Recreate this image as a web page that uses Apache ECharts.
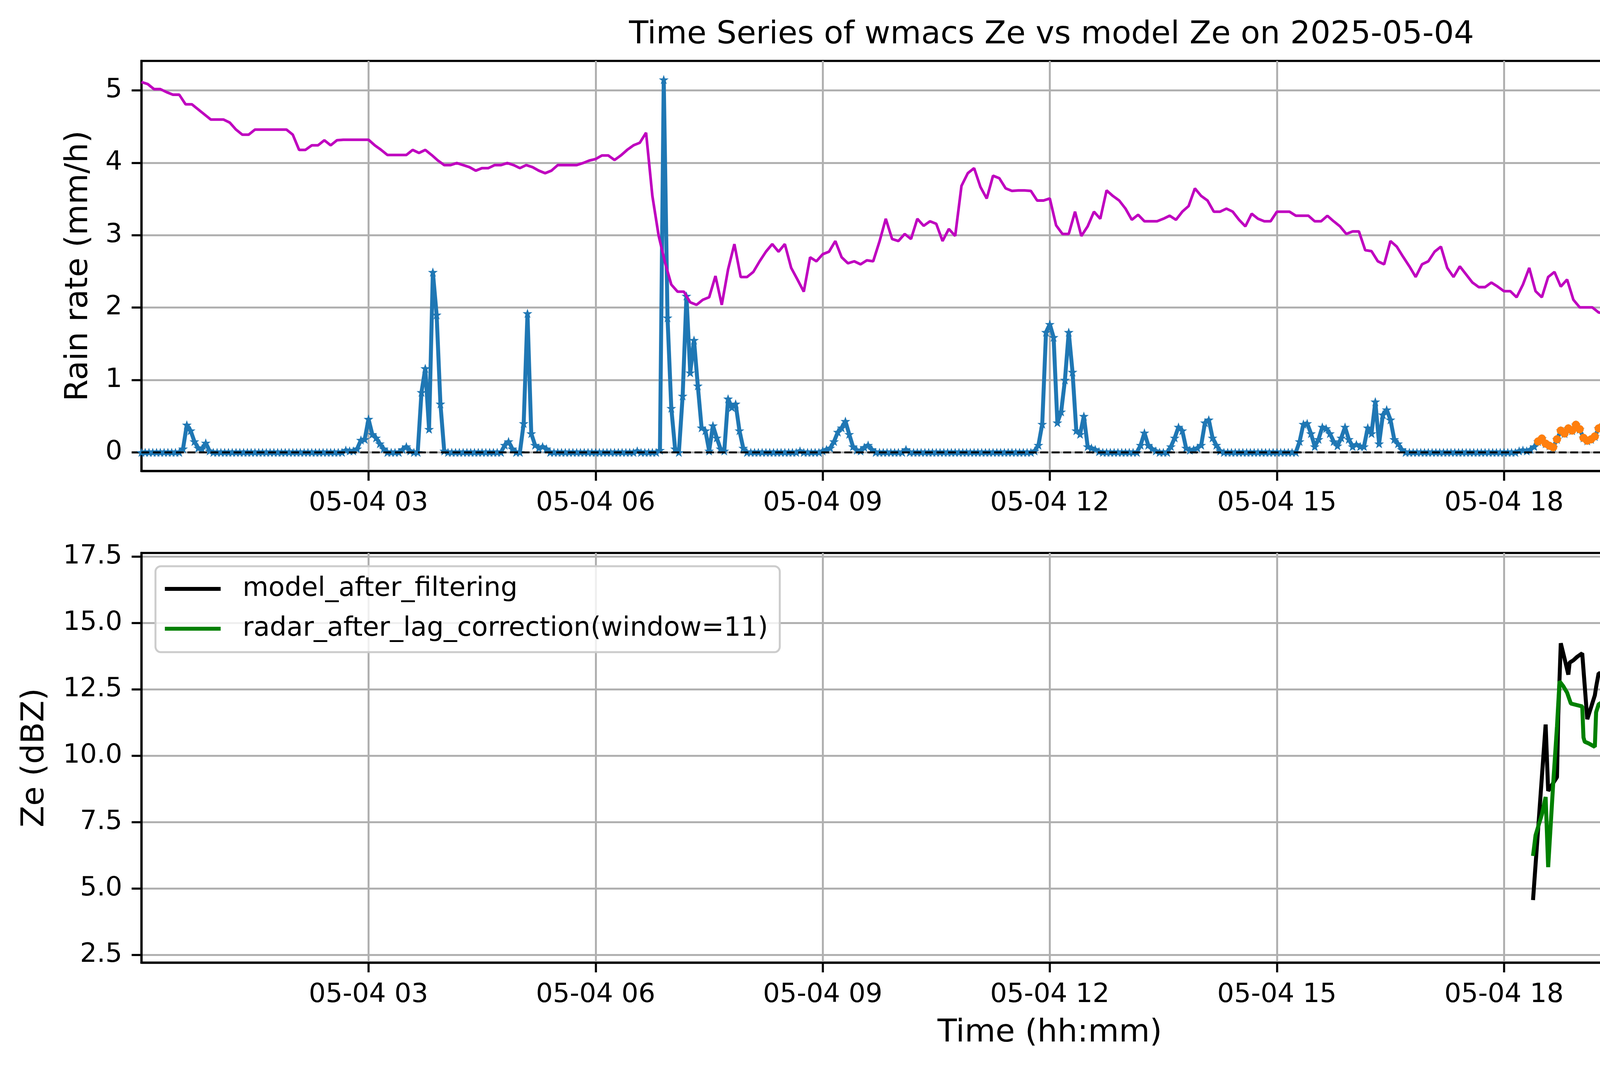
<!DOCTYPE html>
<html><head><meta charset="utf-8">
<script src="https://cdn.jsdelivr.net/npm/echarts@6/dist/echarts.min.js"></script>
<style>html,body{margin:0;padding:0;background:#fff}#c{width:5307px;height:2740px}</style>
</head><body><div id="c"></div>
<script>
const chartTitle = 'Time Series of wmacs Ze vs model Ze on 2025-05-04';
const hourTicks = [3, 6, 9, 12, 15, 18, 21];
const rainTicks = [0, 1, 2, 3, 4, 5];
const tempTicks = [6, 8, 10, 12];
const zeTicks = [2.5, 5, 7.5, 10, 12.5, 15, 17.5];

// rain rate (mm/h), one value every 3 minutes from 00:00 (20 per hour)
const rainRate = [
0,0,0,0,0,0,0,0,0,0, 0,0.05,0.38,0.3,0.15,0.06,0.05,0.13,0.02,0,
0,0,0,0,0,0,0,0,0,0, 0,0,0,0,0,0,0,0,0,0,
0,0,0,0,0,0,0,0,0,0, 0,0,0,0,0.03,0.02,0.02,0.05,0.17,0.18,
0.46,0.25,0.2,0.12,0.05,0,0,0,0,0.04, 0.08,0.02,0,0,0.83,1.16,0.32,2.49,1.9,0.67,
0.02,0,0,0,0,0,0,0,0,0, 0,0,0,0,0,0,0.1,0.15,0.05,0,
0,0.4,1.92,0.26,0.1,0.06,0.08,0.05,0,0, 0,0,0,0,0,0,0,0,0,0,
0,0,0,0,0,0,0,0,0,0, 0,0.02,0,0,0,0,0,0.03,5.15,1.86,
0.61,0.05,0,0.78,2.16,1.1,1.55,0.92,0.34,0.3, 0.02,0.37,0.2,0.05,0.02,0.74,0.62,0.67,0.3,0.06,
0,0,0,0,0,0,0,0,0,0, 0,0,0,0,0.02,0,0,0,0,0,
0.02,0.04,0.06,0.15,0.28,0.34,0.43,0.25,0.08,0.03, 0.02,0.07,0.1,0.04,0,0,0,0,0,0,
0,0,0.04,0,0,0,0,0,0,0, 0,0,0,0,0,0,0,0,0,0,
0,0,0,0,0,0,0,0,0,0, 0,0,0,0,0,0,0.02,0.1,0.39,1.66,
1.77,1.59,0.41,0.56,1.0,1.66,1.11,0.3,0.25,0.5, 0.08,0.06,0.04,0.01,0,0,0,0,0,0,
0,0,0,0,0.1,0.27,0.1,0.05,0.02,0, 0,0,0.08,0.2,0.35,0.3,0.06,0.03,0.04,0.06,
0.1,0.41,0.45,0.2,0.1,0.02,0,0,0,0, 0,0,0,0,0,0,0,0,0,0,
0,0,0,0,0,0,0.15,0.39,0.4,0.26, 0.08,0.18,0.35,0.33,0.26,0.15,0.09,0.2,0.35,0.18,
0.08,0.11,0.08,0.08,0.34,0.26,0.7,0.12,0.52,0.59, 0.45,0.18,0.12,0.04,0,0,0,0,0,0,
0,0,0,0,0,0,0,0,0,0, 0,0,0,0,0,0,0,0,0,0,
0,0,0,0,0.02,0.03,0.02,0.04,0.08,0.15, 0.19,0.12,0.09,0.07,0.18,0.3,0.26,0.33,0.3,0.38,
0.32,0.2,0.16,0.18,0.22,0.33,0.36,0.3,0.56,0.83, 0.58,0.45,0.35,0.52,0.55,0.44,1.13,0.9,0.97,1.2,
0.78,0.7,0.52,0.68,1.02,1.15,1.4,1.25,1.12,1.2, 0.81,2.21,1.3,1.94,0.78,1.99,1.2,0.48,0.22,0.17,
0.13,0.08,0.03,0.01,0,0,0.19,0.22,0.22,0.1, 0,0,0,0,0,0,0,0,0,0,
0,0,0,0,0,0,0,0,0,0, 0.02,0,0,0,0,0,0,0,0,0,
0,0,0,0,0,0,0,0,0,0, 0,0,0,0,0,0,0,0,0,0
];
const rainStepMin = 3;

// rain rate kept after filtering, every 3 minutes from 18:27
const filteredStart = '18:27';
const filteredRain = [
0.15,0.19,0.12,0.09,0.07,0.18,0.3,0.26,0.33,0.3,0.38,
0.32,0.2,0.16,0.18,0.22,0.33,0.36,0.3,0.56,0.83, 0.58,0.45,0.35,0.52,0.55,0.44,1.13,0.9,0.97,1.2,
0.78,0.7,0.52,0.68,1.02,1.15,1.4,1.25,1.12,1.2, 0.81,2.21,1.3,1.94,0.78,1.99,1.2,0.48,0.22,0.17,
0.13,0.08
];

// temperature (°C), one value every 5 minutes from 00:00 (12 per hour)
const temperature = [
12.3,12.26,12.16,12.16,12.1,12.05,12.05,11.86,11.86,11.76,11.66,11.56,
11.56,11.56,11.5,11.36,11.26,11.26,11.36,11.36,11.36,11.36,11.36,11.36,
11.26,10.96,10.96,11.05,11.05,11.15,11.05,11.15,11.16,11.16,11.16,11.16,
11.16,11.05,10.96,10.86,10.86,10.86,10.86,10.96,10.9,10.96,10.86,10.75,
10.66,10.66,10.7,10.66,10.62,10.55,10.6,10.6,10.66,10.66,10.7,10.66,
10.6,10.66,10.62,10.55,10.5,10.55,10.66,10.66,10.66,10.66,10.7,10.75,
10.78,10.85,10.85,10.76,10.85,10.96,11.05,11.1,11.3,10.05,9.26,8.74,
8.3,8.16,8.16,7.95,7.9,8.0,8.05,8.47,7.9,8.6,9.1,8.45,
8.45,8.55,8.76,8.95,9.1,8.95,9.1,8.63,8.4,8.16,8.84,8.76,
8.9,8.95,9.16,8.84,8.72,8.76,8.7,8.78,8.76,9.15,9.6,9.2,
9.16,9.3,9.2,9.6,9.46,9.55,9.5,9.16,9.4,9.26,10.25,10.5,
10.6,10.23,10.0,10.45,10.4,10.2,10.15,10.16,10.16,10.15,9.96,9.96,
10.0,9.47,9.3,9.3,9.74,9.26,9.45,9.74,9.6,10.16,10.05,9.96,
9.8,9.58,9.68,9.55,9.55,9.55,9.6,9.66,9.58,9.74,9.85,10.2,
10.05,9.96,9.74,9.74,9.8,9.74,9.58,9.45,9.7,9.6,9.55,9.55,
9.74,9.74,9.74,9.66,9.66,9.66,9.55,9.55,9.66,9.55,9.45,9.3,
9.35,9.35,8.98,8.96,8.76,8.7,9.16,9.05,8.85,8.66,8.45,8.7,
8.76,8.95,9.05,8.63,8.45,8.66,8.5,8.34,8.25,8.25,8.34,8.26,
8.17,8.17,8.05,8.3,8.63,8.17,8.05,8.45,8.55,8.26,8.4,8.0,
7.85,7.85,7.85,7.75,7.73,7.55,7.66,7.66,7.6,7.45,7.45,7.55,
7.45,7.55,7.5,7.55,7.5,7.45,7.4,7.36,7.05,7.05,7.15,7.3,
7.36,7.36,7.36,7.55,7.36,7.45,7.45,7.55,7.3,7.17,7.2,7.17,
7.2,7.05,7.25,7.17,7.05,6.95,7.17,7.17,7.17,7.1,7.17,7.3,
7.26,7.3,6.95,7.35,7.45,7.45,7.45,7.3,7.36,7.55,7.26,7.2
];
const tempStepMin = 5;

// Ze (dBZ)
const modelTimes = ['18:23','18:33','18:35','18:42','18:43','18:45','18:48','18:51','18:52','18:55','18:58','19:02','19:06','19:12','19:13','19:15','19:20','19:21','19:22','19:23','19:26','19:30','19:32','19:33','19:36','19:38','19:40','19:43','19:44','19:51','19:53','19:54','19:59','20:02','20:03','20:05','20:11','20:14','20:15','20:21','20:22','20:23','20:30','20:32','20:33','20:35','20:42','20:44','20:50','20:51','20:53','20:54','20:55','20:58','21:03','21:04','21:05'];
const modelZe = [4.56,11.17,8.67,9.19,11.5,14.23,13.65,13.05,13.5,13.59,13.72,13.85,11.37,12.27,12.58,13.1,13.09,11.5,14.23,15.03,15.19,15.4,15.48,14.44,14.72,15.09,15.58,15.71,14.89,16.26,16.94,16.97,16.78,16.59,15.02,16.63,15.57,16.48,16.23,16.46,16.63,16.39,15.39,14.89,14.3,14.96,14.89,16.04,13.85,13.39,13.07,12.22,11.83,11.11,10.1,7.52,6.67];
const radarTimes = ['18:23','18:25','18:30','18:33','18:35','18:39','18:42','18:44','18:47','18:50','18:53','19:02','19:03','19:04','19:07','19:12','19:13','19:15','19:18','19:20','19:21','19:22','19:24','19:27','19:33','19:35','19:36','19:41','19:43','19:44','19:50','19:52','19:54','20:02','20:03','20:05','20:11','20:13','20:14','20:21','20:22','20:23','20:30','20:33','20:36','20:41','20:43','20:45','20:46','20:51','20:52','20:58','21:03','21:04','21:05'];
const radarZe = [6.22,7.0,7.78,8.44,5.8,8.96,11.1,12.8,12.61,12.37,11.96,11.85,10.68,10.52,10.46,10.33,11.63,11.93,12.02,12.13,11.5,13.2,13.48,13.42,13.34,13.0,13.13,14.0,13.48,13.04,15.15,15.02,15.11,15.06,14.54,14.89,14.59,14.11,14.79,14.88,14.7,14.34,13.52,13.07,13.16,13.76,14.0,13.85,13.26,10.72,10.0,7.65,5.76,4.13,2.83];

const FONT = 'DejaVu Sans';
const toHours = s => { const p = s.split(':'); return (+p[0]) + (+p[1]) / 60; };
const rainData = rainRate.map((v, i) => [i * rainStepMin / 60, v]);
const tempData = temperature.map((v, i) => [i * tempStepMin / 60, v]);
const fStart = toHours(filteredStart);
const filteredData = filteredRain.map((v, i) => [fStart + i * rainStepMin / 60, v]);
const modelData = modelTimes.map((t, i) => [toHours(t), modelZe[i]]);
const radarData = radarTimes.map((t, i) => [toHours(t), radarZe[i]]);

const SPINE = 5.4;
const gridLine = { show: true, lineStyle: { color: '#b0b0b0', width: 5 } };
const tickStyle = { lineStyle: { color: '#000', width: SPINE }, length: 25, inside: false };
const labelStyle = { fontSize: 68, fontFamily: FONT, color: '#000', margin: 49 };
const nameStyle = { fontSize: 81, fontFamily: FONT, color: '#000' };
const pad2 = v => (v < 10 ? '0' : '') + v;

function xAxisFor(gi, withName) {
  const ax = {
    gridIndex: gi, type: 'value', min: 0, max: 24, interval: 3,
    axisLine: { show: true, onZero: false, lineStyle: { color: '#000', width: SPINE } },
    axisTick: Object.assign({ customValues: hourTicks }, tickStyle),
    axisLabel: Object.assign({ customValues: hourTicks, formatter: v => '05-04 ' + pad2(v) }, labelStyle),
    splitLine: gridLine
  };
  if (withName) {
    ax.name = 'Time (hh:mm)'; ax.nameLocation = 'middle'; ax.nameGap = 140; ax.nameTextStyle = nameStyle;
  }
  return ax;
}

const star = 'path://M0,-10L2.35,-3.24L9.51,-3.09L3.8,1.24L5.88,8.09L0,4L-5.88,8.09L-3.8,1.24L-9.51,-3.09L-2.35,-3.24Z';

const option = {
  animation: false,
  backgroundColor: '#fff',
  title: {
    text: chartTitle, left: 2687, textAlign: 'center', top: 44,
    textStyle: { fontSize: 81, fontWeight: 'normal', fontFamily: FONT, color: '#000' }
  },
  grid: [
    { left: 362, right: 294, top: 156, height: 1050, show: true, borderColor: '#000', borderWidth: SPINE, backgroundColor: 'transparent' },
    { left: 362, right: 294, top: 1416, height: 1049, show: true, borderColor: '#000', borderWidth: SPINE, backgroundColor: 'transparent' }
  ],
  xAxis: [xAxisFor(0, false), xAxisFor(1, true)],
  yAxis: [
    {
      gridIndex: 0, type: 'value', min: -0.2575, max: 5.4075,
      name: 'Rain rate (mm/h)', nameLocation: 'middle', nameGap: 120, nameTextStyle: nameStyle,
      axisLine: { show: true, onZero: false, lineStyle: { color: '#000', width: SPINE } },
      axisTick: Object.assign({ customValues: rainTicks }, tickStyle),
      axisLabel: Object.assign({ customValues: rainTicks }, labelStyle),
      splitLine: gridLine
    },
    {
      gridIndex: 0, type: 'value', position: 'right', min: 4.62, max: 12.717,
      name: 'Temperature (° C)', nameLocation: 'middle', nameGap: 150, nameTextStyle: nameStyle,
      axisLine: { show: true, onZero: false, lineStyle: { color: '#bf00bf', width: SPINE } },
      axisTick: Object.assign({ customValues: tempTicks }, tickStyle),
      axisLabel: Object.assign({ customValues: tempTicks }, labelStyle),
      splitLine: { show: false }
    },
    {
      gridIndex: 1, type: 'value', min: 2.204, max: 17.63,
      name: 'Ze (dBZ)', nameLocation: 'middle', nameGap: 232, nameTextStyle: nameStyle,
      axisLine: { show: true, onZero: false, lineStyle: { color: '#000', width: SPINE } },
      axisTick: Object.assign({ customValues: zeTicks }, tickStyle),
      axisLabel: Object.assign({ customValues: zeTicks, formatter: v => v.toFixed(1) }, labelStyle),
      splitLine: gridLine
    }
  ],
  legend: [
    {
      data: ['before filtering', 'after filtering'], orient: 'vertical', right: 330, top: 190,
      itemWidth: 147, itemHeight: 26, itemGap: 36,
      padding: [22, 36, 28, 24],
      lineStyle: { width: 10.2 },
      backgroundColor: 'rgba(255,255,255,0.8)', borderColor: '#cccccc', borderWidth: 5, borderRadius: 14,
      textStyle: { fontSize: 68, fontFamily: FONT, color: '#000', lineHeight: 68, padding: [0, 0, 0, 47] }
    },
    {
      data: [
        { name: 'model_after_filtering', icon: 'path://M0,0H100V7H0Z' },
        { name: 'radar_after_lag_correction(window=11)', icon: 'path://M0,0H100V7H0Z' }
      ],
      orient: 'vertical', left: 398, top: 1450,
      itemWidth: 147, itemHeight: 10, itemGap: 34,
      padding: [24, 30, 26, 24],
      backgroundColor: 'rgba(255,255,255,0.8)', borderColor: '#cccccc', borderWidth: 5, borderRadius: 14,
      textStyle: { fontSize: 68, fontFamily: FONT, color: '#000', lineHeight: 68, padding: [0, 0, 0, 49] }
    }
  ],
  series: [
    {
      name: 'before filtering', type: 'line', xAxisIndex: 0, yAxisIndex: 0, data: rainData,
      symbol: star, symbolSize: 25, symbolKeepAspect: true, showAllSymbol: true,
      lineStyle: { color: '#1f77b4', width: 10.2 }, itemStyle: { color: '#1f77b4' },
      silent: true, z: 3,
      markLine: {
        silent: true, symbol: 'none', label: { show: false },
        lineStyle: { color: '#000', type: [20, 9.5], width: 5 },
        data: [{ yAxis: 0 }]
      }
    },
    {
      name: 'after filtering', type: 'scatter', xAxisIndex: 0, yAxisIndex: 0, data: filteredData,
      symbol: 'circle', symbolSize: 21, itemStyle: { color: '#ff7f0e', opacity: 1 }, silent: true, z: 5
    },
    {
      name: 'temperature', type: 'line', xAxisIndex: 0, yAxisIndex: 1, data: tempData,
      symbol: 'none', lineStyle: { color: '#bf00bf', width: 6.8 }, itemStyle: { color: '#bf00bf' },
      silent: true, z: 6
    },
    {
      name: 'model_after_filtering', type: 'line', xAxisIndex: 1, yAxisIndex: 2, data: modelData,
      symbol: 'none', lineStyle: { color: '#000', width: 10.2 }, itemStyle: { color: '#000' }, silent: true, z: 3
    },
    {
      name: 'radar_after_lag_correction(window=11)', type: 'line', xAxisIndex: 1, yAxisIndex: 2, data: radarData,
      symbol: 'none', lineStyle: { color: '#008000', width: 10.2 }, itemStyle: { color: '#008000' }, silent: true, z: 4
    }
  ]
};

const chart = echarts.init(document.getElementById('c'), null, { renderer: 'canvas' });
chart.setOption(option);
</script>
</body></html>
